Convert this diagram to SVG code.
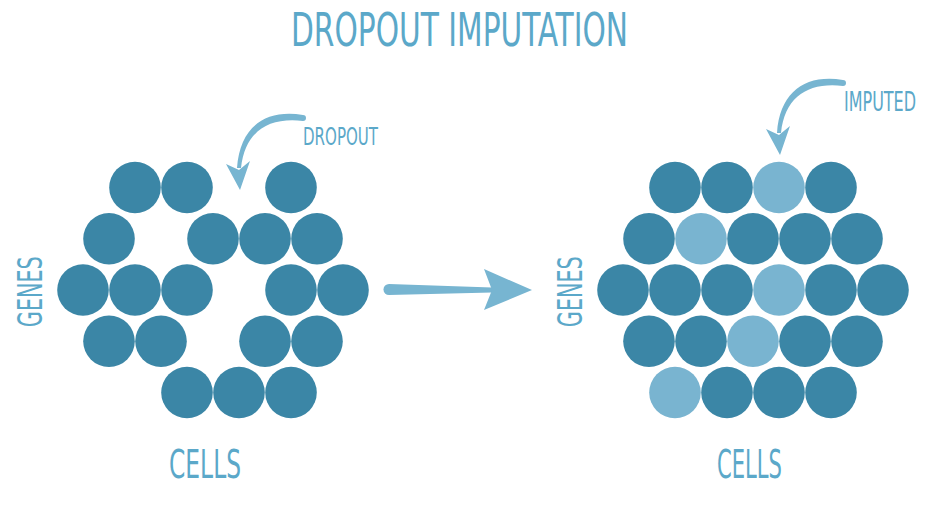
<svg xmlns="http://www.w3.org/2000/svg" width="926" height="520" viewBox="0 0 926 520">
  <style>
    .lbl { font-family: "Liberation Sans Narrow", "DejaVu Sans Condensed", "Liberation Sans", sans-serif; fill: #5ba8c9; }
    .d { fill: #3b86a6; }
    .l { fill: #79b4d0; }
    .arr { fill: #77b5d1; }
  </style>
  <defs>
    <circle id="c" r="25.8"/>
    <g id="curvedArrow">
      <path d="M0,-3 C-37,-9 -63,8 -66,50 L-62,50 C-58,13 -34,-1 0,3 A3,3 0 0 0 0,-3 Z"/>
      <path d="M-77,46 L-63,72 L-53,43 L-64,52 Z"/>
    </g>
  </defs>
  <rect width="926" height="520" fill="#ffffff"/>

  <g id="title">
    <text class="lbl" x="291" y="46" font-size="46" textLength="337" lengthAdjust="spacingAndGlyphs">DROPOUT IMPUTATION</text>
  </g>

  <g id="left-matrix">
    <g class="d">
      <use href="#c" x="135" y="187.5"/><use href="#c" x="187" y="187.5"/><use href="#c" x="291" y="187.5"/>
      <use href="#c" x="109" y="238.75"/><use href="#c" x="213" y="238.75"/><use href="#c" x="265" y="238.75"/><use href="#c" x="317" y="238.75"/>
      <use href="#c" x="83" y="290"/><use href="#c" x="135" y="290"/><use href="#c" x="187" y="290"/><use href="#c" x="291" y="290"/><use href="#c" x="343" y="290"/>
      <use href="#c" x="109" y="341.25"/><use href="#c" x="161" y="341.25"/><use href="#c" x="265" y="341.25"/><use href="#c" x="317" y="341.25"/>
      <use href="#c" x="187" y="392.5"/><use href="#c" x="239" y="392.5"/><use href="#c" x="291" y="392.5"/>
    </g>
  </g>

  <g id="right-matrix">
    <g class="d">
      <use href="#c" x="675" y="187.5"/><use href="#c" x="727" y="187.5"/><use href="#c" x="831" y="187.5"/>
      <use href="#c" x="649" y="238.75"/><use href="#c" x="753" y="238.75"/><use href="#c" x="805" y="238.75"/><use href="#c" x="857" y="238.75"/>
      <use href="#c" x="623" y="290"/><use href="#c" x="675" y="290"/><use href="#c" x="727" y="290"/><use href="#c" x="831" y="290"/><use href="#c" x="883" y="290"/>
      <use href="#c" x="649" y="341.25"/><use href="#c" x="701" y="341.25"/><use href="#c" x="805" y="341.25"/><use href="#c" x="857" y="341.25"/>
      <use href="#c" x="727" y="392.5"/><use href="#c" x="779" y="392.5"/><use href="#c" x="831" y="392.5"/>
    </g>
    <g class="l">
      <use href="#c" x="779" y="187.5"/>
      <use href="#c" x="701" y="238.75"/>
      <use href="#c" x="779" y="290"/>
      <use href="#c" x="753" y="341.25"/>
      <use href="#c" x="675" y="392.5"/>
    </g>
  </g>

  <g id="labels">
    <text class="lbl" x="303" y="145" font-size="25" textLength="75" lengthAdjust="spacingAndGlyphs">DROPOUT</text>
    <text class="lbl" x="916" y="110.7" text-anchor="end" font-size="26" textLength="72" lengthAdjust="spacingAndGlyphs">IMPUTED</text>
    <text class="lbl" x="169" y="477.7" font-size="39" textLength="72" lengthAdjust="spacingAndGlyphs">CELLS</text>
    <text class="lbl" x="717" y="477.7" font-size="39" textLength="65" lengthAdjust="spacingAndGlyphs">CELLS</text>
    <text class="lbl" transform="translate(42,291.7) rotate(-90)" x="0" y="0" text-anchor="middle" font-size="34" textLength="71" lengthAdjust="spacingAndGlyphs">GENES</text>
    <text class="lbl" transform="translate(582,291.7) rotate(-90)" x="0" y="0" text-anchor="middle" font-size="34" textLength="71" lengthAdjust="spacingAndGlyphs">GENES</text>
  </g>

  <g id="connectors" class="arr">
    <use href="#curvedArrow" transform="translate(303,118)"/>
    <use href="#curvedArrow" transform="translate(843,83)"/>
    <path d="M389,284 L492,287.5 L492,292.5 L389,295 A5.5,5.5 0 0 1 389,284 Z"/>
    <path d="M484,269 L532,290 L484,310 L492,290 Z"/>
  </g>
</svg>
